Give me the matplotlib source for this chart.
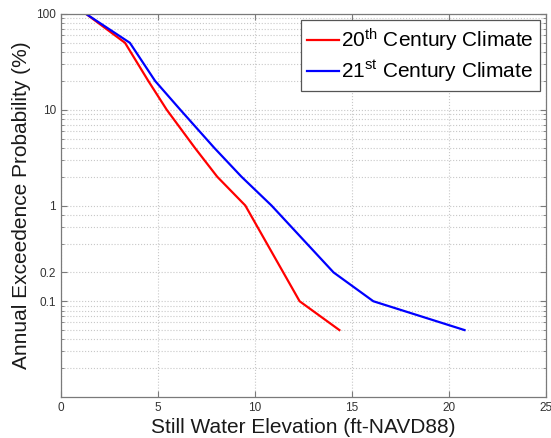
import matplotlib
matplotlib.use("Agg")
import matplotlib.pyplot as plt
from matplotlib.ticker import FixedLocator, NullFormatter

plt.rcParams['font.family'] = ['Liberation Sans', 'DejaVu Sans']
plt.rcParams['mathtext.default'] = 'regular'

# Data
x_20th = [1.3, 3.3, 4.5, 5.45, 6.9, 8.05, 9.5, 12.3, 14.35]
y_20th = [100, 50, 20, 10, 4, 2, 1, 0.1, 0.05]
x_21st = [1.3, 3.55, 4.85, 6.15, 7.9, 9.3, 10.85, 14.05, 16.1, 20.8]
y_21st = [100, 50, 20, 10, 4, 2, 1, 0.2, 0.1, 0.05]

xticks = [0, 5, 10, 15, 20, 25]
yticks = [0.1, 0.2, 1, 10, 100]
ytick_labels = ['0.1', '0.2', '1', '10', '100']
yminor = [0.02, 0.03, 0.04, 0.05, 0.06, 0.07, 0.08, 0.09,
          0.4, 0.6, 0.8,
          2, 3, 4, 5, 6, 7, 8, 9,
          20, 30, 40, 50, 60, 70, 80, 90]

fig = plt.figure(figsize=(5.51, 4.38), dpi=100)
ax = fig.add_axes([61/551, 41/438, 485/551, 383/438])

ax.plot(x_20th, y_20th, color=(1, 0, 0), lw=1.6,
        label=r'20$^{th}$ Century Climate')
ax.plot(x_21st, y_21st, color=(0, 0, 1), lw=1.6,
        label=r'21$^{st}$ Century Climate')

ax.set_yscale('log')
ax.set_xlim(0, 25)
ax.set_ylim(0.01, 100)
ax.set_xticks(xticks)
ax.set_xticklabels([str(t) for t in xticks])
ax.yaxis.set_major_locator(FixedLocator(yticks))
ax.set_yticklabels(ytick_labels)
ax.yaxis.set_minor_locator(FixedLocator(yminor))
ax.yaxis.set_minor_formatter(NullFormatter())

ax.grid(True, which='major', axis='both', color='#c8c8c8', linestyle=':', linewidth=0.8)
ax.grid(True, which='minor', axis='y', color='#c8c8c8', linestyle=':', linewidth=0.8)

for s in ax.spines.values():
    s.set_color('#7a7a7a')
    s.set_linewidth(0.9)

ax.tick_params(which='both', direction='in', top=True, right=True,
               colors='#7a7a7a', labelcolor='#333333', labelsize=8.5)
ax.tick_params(which='major', length=4)
ax.tick_params(which='minor', length=2)

ax.set_xlabel('Still Water Elevation (ft-NAVD88)', fontsize=15, color='#1a1a1a', labelpad=3)
ax.set_ylabel('Annual Exceedence Probability (%)', fontsize=15, color='#1a1a1a', labelpad=4)

leg = ax.legend(loc='upper right', fontsize=15, fancybox=False, framealpha=1,
                edgecolor='#555555', handlelength=1.5, handletextpad=0.1,
                borderaxespad=0.3, borderpad=0.3, labelspacing=0.25)
leg.get_frame().set_linewidth(0.9)

fig.savefig('out.png', dpi=100)
